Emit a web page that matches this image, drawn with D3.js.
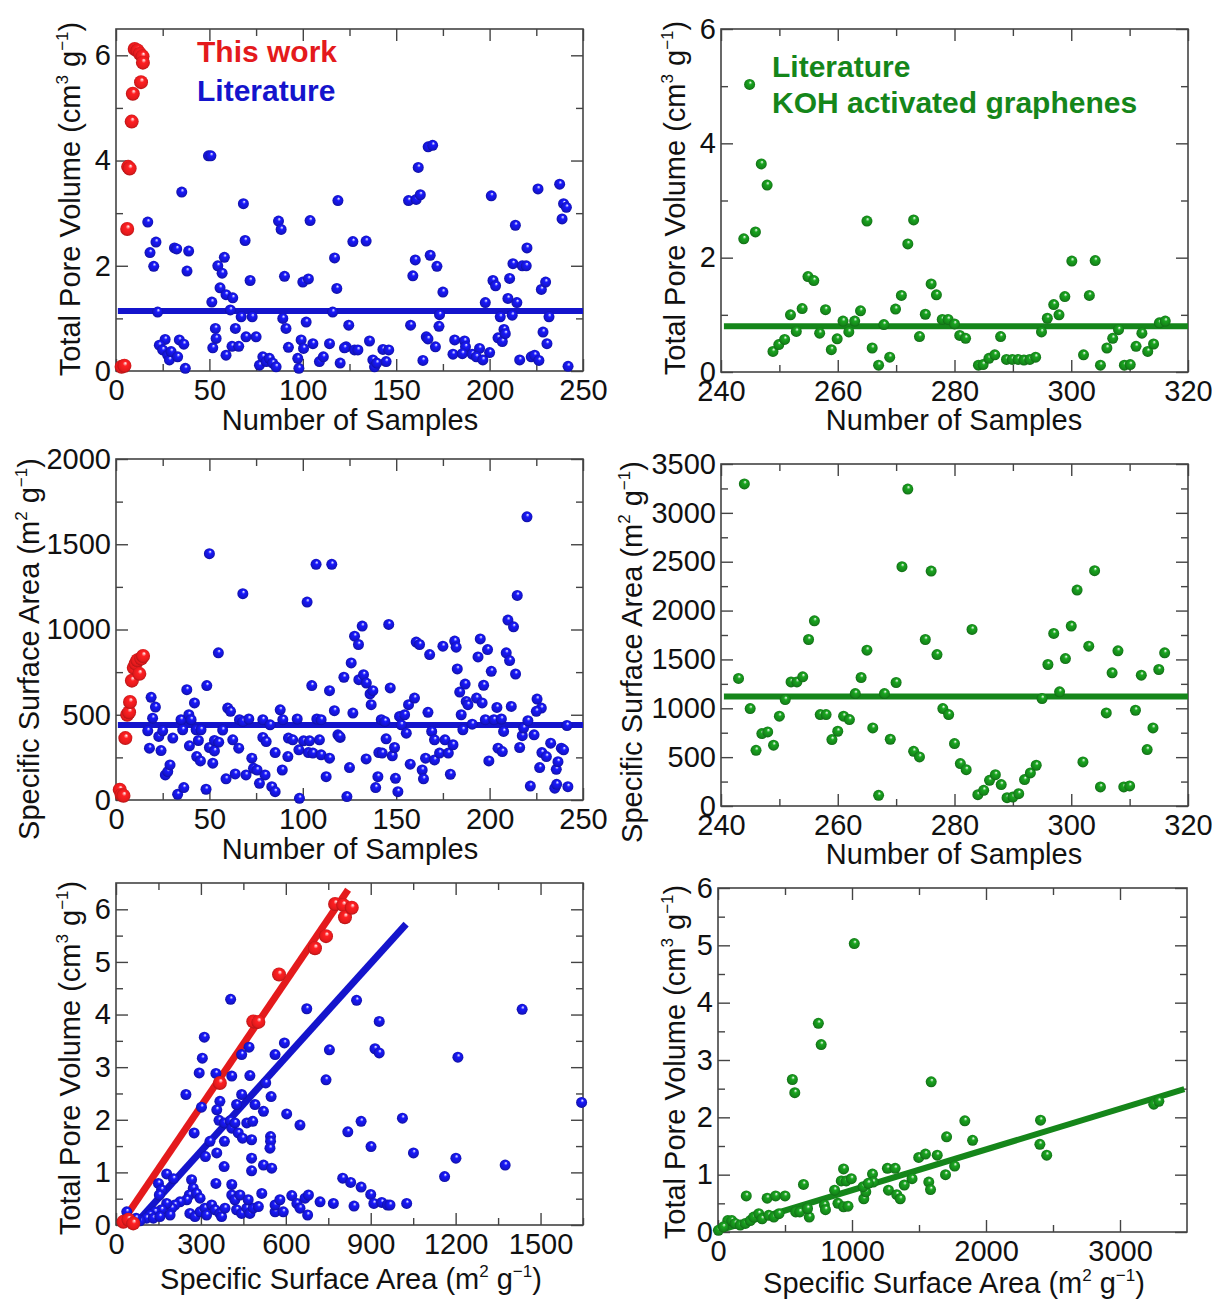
<!DOCTYPE html>
<html>
<head>
<meta charset="utf-8">
<script src="https://cdnjs.cloudflare.com/ajax/libs/d3/7.8.5/d3.min.js"></script>
<style>
  body { margin: 0; background: #fff; }
  svg { display: block; font-family: "Liberation Sans", Arial, sans-serif; }
  .tick text { font-size: 29px; fill: #111; }
  .tick line { stroke: #444; stroke-width: 1.4; }
  .title { font-size: 29px; fill: #111; }
  .legend { font-size: 30px; font-weight: bold; }
</style>
</head>
<body>
<div id="chart"></div>
<script>
// ---- data ----
// top left: total pore volume vs sample number
var tpvThisWork = [[3,0.08],[4.5,0.1],[6,2.70],[6.5,3.88],[7.3,3.85],[8.4,4.74],[9,5.27],[10,6.12],
    [11.5,6.09],[12.8,6.03],[13.4,5.49],[14.2,5.98],[14.4,5.86]];
var tpvLit = [[17,2.83],[21.4,2.45],[18.2,2.25],[20.2,1.99],[22.3,1.12],[26.3,0.6],[23.2,0.49],[25,0.4],
    [27.7,0.3],[28.6,0.21],[29.5,0.37],[33,0.27],[31.3,2.34],[32.5,2.32],[33.9,0.59],[36.3,0.51],[35.2,3.4],
    [37.1,0.05],[38.9,2.28],[38,1.9],[49.5,4.09],[50.8,4.09],[51.3,1.31],[51.8,0.44],[53.2,0.81],[53.6,0.62],
    [54.5,2.0],[56.8,1.86],[58,2.16],[55.7,1.58],[58.9,1.45],[62.5,1.39],[58.9,0.3],[61.2,1.16],[62.1,0.47],
    [63.9,0.81],[65.7,0.47],[67,1.03],[68.2,3.18],[69.1,2.48],[69.6,0.65],[71.8,1.72],[72.9,1.03],[75,0.65],
    [76.8,0.11],[78.6,0.27],[80.4,0.18],[82.1,0.24],[83.9,0.15],[85.7,0.08],[87,2.85],[88.4,2.69],[89.3,1.0],
    [91,0.81],[90.2,1.8],[92.3,0.45],[97.9,0.05],[97.3,0.24],[99.1,0.59],[100,1.69],[103,1.75],[101.8,0.93],
    [103.9,2.86],[105.4,0.52],[100.4,0.43],[108.9,0.18],[111,0.27],[114.3,0.52],[116,1.12],[117,2.15],
    [118.2,1.57],[118.8,3.24],[120,0.15],[123.2,0.46],[124.6,0.87],[126.8,2.46],[133.9,2.47],[122.3,0.44],
    [127.7,0.4],[129.5,0.4],[135.7,0.57],[137.5,0.21],[138.4,0.08],[139.6,0.15],[142.9,0.41],[146,0.4],
    [144.6,0.18],[156.6,3.24],[160.7,3.26],[162.9,3.35],[161.8,3.87],[167.1,4.26],[169.5,4.29],[160.2,2.11],
    [158.9,1.81],[157.7,0.87],[168.2,2.2],[171.8,1.99],[175,1.5],[173.2,1.07],[172.9,0.85],[166.1,0.65],
    [167,0.61],[164.3,0.2],[171,0.46],[181.3,0.59],[180.4,0.32],[186.6,0.57],[187.1,0.46],[185.4,0.33],
    [190.7,0.32],[194.6,0.43],[192.9,0.27],[196.4,0.21],[200,0.35],[197.7,1.3],[200.9,3.33],[201.8,1.72],
    [203.2,1.62],[205.7,1.03],[204.5,0.63],[206.8,0.56],[207.7,0.79],[208.4,0.71],[209.8,1.38],[210.7,1.76],
    [212.5,2.04],[213.8,2.77],[212.1,1.06],[214.6,1.3],[217.5,2.0],[219.6,2.0],[220,2.34],[216.1,0.21],
    [222.3,0.27],[224.1,0.3],[226.4,0.2],[225.9,3.46],[227.7,1.55],[230,1.69],[228.6,0.74],[230.7,0.52],
    [231.8,1.03],[237.5,3.55],[239.6,3.18],[241.1,3.11],[238.8,2.89],[242,0.09]];
var tpvLitMean = 1.14;

// top right: KOH activated graphenes, pore volume vs sample number
var tpvKoh = [[243.9,2.33],[244.9,5.03],[245.9,2.45],[246.9,3.64],[247.9,3.27],[248.9,0.36],[249.9,0.48],
    [250.9,0.57],[251.9,1.0],[252.9,0.71],[253.9,1.11],[254.9,1.67],[255.9,1.6],[256.9,0.68],[257.9,1.09],
    [258.9,0.39],[259.9,0.58],[260.9,0.89],[261.9,0.7],[262.9,0.89],[263.9,1.07],[265,2.64],[265.9,0.42],
    [267,0.12],[267.9,0.83],[268.9,0.26],[269.9,1.1],[270.9,1.34],[272,2.24],[273,2.66],[274,0.62],[275,1.01],
    [276,1.54],[276.9,1.35],[277.9,0.92],[278.9,0.92],[280,0.84],[280.9,0.64],[281.9,0.59],[284.1,0.12],
    [284.9,0.13],[285.9,0.24],[286.9,0.3],[287.9,0.62],[288.9,0.22],[289.9,0.22],[290.9,0.22],[291.9,0.21],
    [292.9,0.22],[293.9,0.26],[294.9,0.7],[295.9,0.94],[297,1.18],[297.9,1.0],[298.9,1.32],[300.1,1.94],
    [302.1,0.3],[303.1,1.34],[304.1,1.95],[305,0.12],[306.1,0.42],[307.1,0.59],[308.1,0.74],[309.1,0.12],
    [310.1,0.13],[311.1,0.45],[312.1,0.68],[313.1,0.36],[314.1,0.49],[315.1,0.86],[316.1,0.89]];
var tpvKohMean = 0.80;

// middle left: specific surface area vs sample number
var ssaThisWork = [[2,60],[3,30],[4,25],[5,363],[6,500],[7,515],[7.5,575],[8.5,700],[9.5,775],[10.5,800],
    [11.5,820],[12.5,740],[13.5,830],[14.5,845]];
var ssaLit = [[18.8,602],[21.1,545],[19.6,480],[17,406],[17.9,304],[22.9,373],[24.1,290],[26.4,147],
    [27.7,167],[28.9,206],[25,406],[30.4,363],[33,33],[36.3,73],[34.8,471],[35.7,412],[37.9,647],[39,500],
    [40.2,471],[39.3,318],[42,569],[42.9,412],[45.5,412],[44.1,349],[43.2,255],[45.2,229],[48.2,63],
    [48.6,671],[50,1445],[50,308],[52.7,288],[51.8,216],[52.7,349],[55,339],[54.8,863],[57.1,410],[58.9,124],
    [59.8,539],[61.3,520],[62.5,353],[63.8,153],[65.7,304],[66.1,471],[67.9,461],[67.9,1210],[69.6,147],
    [71.1,475],[72.7,245],[73.6,186],[75.5,176],[76.8,98],[78.6,471],[78.6,367],[80.4,343],[79.8,147],
    [82.5,441],[83.4,78],[85.2,49],[85.2,278],[87.9,529],[89,176],[89.3,471],[92,255],[92.3,363],[94.6,353],
    [97,475],[98.2,10],[97.9,294],[100.4,347],[103,278],[105.4,275],[103.6,347],[102.3,1161],[107.1,1382],
    [107.5,475],[109.8,471],[108.9,353],[104.8,671],[109.8,265],[112.5,137],[114.3,641],[114.3,245],
    [115.5,1382],[116.9,524],[118.8,382],[120,367],[122,720],[123.6,20],[119.6,373],[126.8,510],[125.9,804],
    [125,190],[127.7,961],[129.8,912],[131.8,1020],[130,706],[132.5,735],[134,686],[136,622],[137.5,641],
    [136.6,559],[133.9,241],[140.2,137],[139,73],[140.7,278],[142.5,275],[142,471],[143.9,461],[144.6,359],
    [146,1030],[146.8,657],[147.9,259],[149.1,308],[149.6,127],[150.9,49],[151.8,490],[154.5,500],[152.7,441],
    [155.4,392],[156.6,559],[159.8,598],[157.5,210],[160.7,926],[162.5,912],[163.9,176],[164.6,124],[167,514],
    [167.9,853],[165.7,245],[169,402],[170.5,353],[170.5,235],[173.2,275],[175,902],[176.1,353],[177.9,275],
    [180.4,324],[179,151],[181.3,932],[182.1,896],[182.7,769],[184,633],[184.8,500],[185.7,412],[186.9,680],
    [187.5,578],[188.4,559],[190.7,445],[193,598],[196,569],[193.8,839],[195,945],[196.8,673],[197.7,471],
    [198.9,882],[199.6,229],[200.9,755],[202.3,471],[203.9,543],[204.5,304],[206.8,284],[206.3,475],
    [207.5,402],[208.9,863],[210.7,818],[209.8,1055],[212.8,1016],[211.6,549],[213.9,739],[214.8,1200],
    [216.1,308],[217.5,377],[218.2,422],[220,1661],[220.5,465],[221.8,82],[223.8,382],[225.4,592],[227.7,539],
    [225,520],[226.8,190],[228,278],[230.4,255],[232.7,333],[235.7,180],[236.6,225],[234.9,69],[235.9,92],
    [238.4,304],[239.6,294],[241.4,437],[241.9,78]];
var ssaLitMean = 440;

// middle right: KOH activated graphenes, surface area vs sample number
var ssaKoh = [[243,1305],[244,3296],[245,997],[246,570],[247,741],[248,758],[249,622],[250,919],[251,1089],
    [252,1270],[253,1270],[254,1322],[255,1704],[256,1895],[257,936],[258,936],[259,680],[260,765],[261,919],
    [262,884],[263,1151],[264,1315],[265,1595],[266,799],[267,109],[268,1151],[269,683],[270,1264],[271,2449],
    [272,3244],[273,560],[274,502],[275,1704],[276,2404],[277,1550],[278,997],[279,936],[280,639],[281,434],
    [282,372],[283,1807],[284,116],[285,161],[286,263],[287,321],[288,219],[289,85],[290,92],[291,126],
    [292,270],[293,338],[294,417],[295,1100],[296,1448],[297,1766],[298,1168],[299,1509],[300,1841],
    [301,2210],[302,451],[303,1636],[304,2408],[305,195],[306,953],[307,1363],[308,1588],[309,195],[310,205],
    [311,980],[312,1339],[313,577],[314,799],[315,1397],[316,1568]];
var ssaKohMean = 1120;

// bottom left: pore volume vs surface area
var corrThisWork = [[26,0.06],[44,0.1],[61,0.03],[367,2.70],[485,3.87],[503,3.86],[576,4.76],[703,5.26],
    [742,5.49],[774,6.10],[803,6.08],[809,5.85],[833,6.03]];
var corrLit = [[405,4.29],[312,3.57],[305,3.17],[294,2.89],[247,2.48],[302,2.24],[276,1.75],[353,2.88],
    [409,2.83],[444,3.24],[470,3.38],[473,2.84],[367,2.35],[356,2.19],[364,1.99],[383,1.94],[403,1.98],
    [409,1.84],[420,1.94],[426,2.29],[444,2.48],[462,1.94],[432,1.75],[447,1.65],[483,1.97],[479,1.62],
    [383,1.59],[356,1.37],[332,1.59],[316,1.3],[382,1.11],[479,1.27],[479,1.03],[491,2.29],[521,2.16],
    [529,2.7],[548,2.44],[562,3.24],[595,3.46],[546,1.68],[546,1.59],[544,1.46],[521,1.14],[550,1.08],
    [603,2.11],[650,1.9],[674,4.11],[754,3.33],[742,2.76],[850,4.27],[930,3.87],[915,3.35],[930,3.27],
    [866,1.97],[819,1.77],[901,1.49],[1012,2.03],[1051,1.37],[179,0.97],[150,0.79],[161,0.67],[153,0.57],
    [203,0.88],[267,0.86],[273,0.7],[259,0.57],[285,0.6],[297,0.51],[250,0.48],[226,0.44],[208,0.38],
    [197,0.32],[179,0.41],[161,0.29],[138,0.25],[120,0.19],[108,0.13],[85,0.08],[71,0.13],[38,0.25],
    [132,0.13],[155,0.16],[191,0.19],[261,0.22],[279,0.16],[297,0.25],[314,0.32],[320,0.19],[338,0.38],
    [350,0.29],[367,0.22],[373,0.16],[385,0.32],[353,0.79],[409,0.77],[409,0.57],[420,0.48],[438,0.57],
    [426,0.29],[444,0.22],[462,0.32],[473,0.22],[485,0.32],[467,0.48],[515,0.6],[503,0.35],[562,0.25],
    [562,0.38],[579,0.48],[591,0.25],[621,0.56],[639,0.41],[650,0.32],[668,0.51],[680,0.57],[677,0.19],
    [721,0.44],[768,0.41],[801,0.89],[829,0.81],[841,0.36],[866,0.72],[900,0.58],[911,0.41],[939,0.43],
    [959,0.38],[968,0.38],[1027,0.41],[1161,0.92],[1201,1.27],[1208,3.19],[1375,1.14],[1435,4.1],[1645,2.33]];
var fitThisWork = [[15,0],[820,6.37]];
var fitLit = [[65,0],[1025,5.72]];

// bottom right: KOH activated graphenes, pore volume vs surface area
var corrKoh = [[555,2.66],[573,2.43],[1591,2.62],[1842,1.94],[1900,1.6],[1706,1.66],[2407,1.95],[2402,1.53],
    [2453,1.34],[211,0.63],[367,0.59],[430,0.63],[500,0.63],[638,0.83],[580,0.35],[610,0.35],[681,0.26],
    [668,0.41],[794,0.47],[802,0.39],[937,1.1],[920,0.89],[957,0.89],[995,0.93],[895,0.5],[937,0.44],
    [970,0.45],[870,0.73],[1088,0.58],[1103,0.7],[1083,0.79],[1153,1.01],[1158,0.87],[1121,0.85],[1264,1.11],
    [1322,1.11],[1272,0.73],[1334,0.65],[1360,0.58],[1390,0.82],[1448,0.93],[1498,1.3],[1548,1.36],[1573,0.87],
    [1586,0.74],[1636,1.34],[1698,1.0],[1766,1.15],[73,0.2],[103,0.2],[128,0.15],[166,0.12],[204,0.15],
    [241,0.2],[266,0.26],[304,0.32],[329,0.23],[379,0.29],[417,0.26],[455,0.32],[3,0.03],[40,0.09],
    [1017,5.03],[749,3.64],[770,3.27],[3252,2.23],[3290,2.28]];
var fitKoh = [[0,0.02],[3480,2.49]];

var red = "#e41a1c", blue = "#1414cc", green = "#15861a";

var svg = d3.select("#chart").append("svg")
    .attr("width", 1212)
    .attr("height", 1301);

// shaded sphere look for the markers
var defs = svg.append("defs");
[["red", red], ["blue", blue], ["green", green]].forEach(function (c) {
    var grad = defs.append("radialGradient")
        .attr("id", "ball-" + c[0])
        .attr("cx", "0.5").attr("cy", "0.5").attr("r", "0.55")
        .attr("fx", "0.58").attr("fy", "0.3");
    grad.append("stop").attr("offset", "0%").attr("stop-color", "#ffffff");
    grad.append("stop").attr("offset", "30%").attr("stop-color", d3.color(c[1]).brighter(0.6));
    grad.append("stop").attr("offset", "75%").attr("stop-color", c[1]);
    grad.append("stop").attr("offset", "100%").attr("stop-color", d3.color(c[1]).darker(1));
});

function range(a, b, step) { return d3.range(a, b + step / 2, step); }

// one framed panel with inward ticks on all four sides
function makePanel(p) {
    var w = p.x1 - p.x0, h = p.y1 - p.y0;
    var g = svg.append("g").attr("transform", "translate(" + p.x0 + "," + p.y0 + ")");
    var x = d3.scaleLinear().domain(p.xd).range([0, w]);
    var y = d3.scaleLinear().domain(p.yd).range([h, 0]);

    var axes = [
        [d3.axisBottom, x, "translate(0," + h + ")", true],
        [d3.axisLeft, y, null, true],
        [d3.axisTop, x, null, false],
        [d3.axisRight, y, "translate(" + w + ",0)", false]
    ];
    axes.forEach(function (a) {
        var isX = a[1] === x;
        var major = isX ? p.xMajor : p.yMajor, minor = isX ? p.xMinor : p.yMinor;
        var ax = a[0](a[1]).tickValues(major).tickSizeInner(-12).tickSizeOuter(0)
            .tickPadding(isX ? 8 : 5)
            .tickFormat(a[3] ? d3.format("d") : "");
        var ga = g.append("g").call(ax);
        if (a[2]) ga.attr("transform", a[2]);
        ga.select(".domain").remove();
        var gm = g.append("g").call(a[0](a[1]).tickValues(minor).tickSizeInner(-7)
            .tickSizeOuter(0).tickFormat(""));
        if (a[2]) gm.attr("transform", a[2]);
        gm.select(".domain").remove();
    });

    g.append("rect").attr("width", w).attr("height", h)
        .attr("fill", "none").attr("stroke", "#444").attr("stroke-width", 1.6);

    var line = d3.line().x(function (d) { return x(d[0]); }).y(function (d) { return y(d[1]); });
    p.lines.forEach(function (l) {
        g.append("path").attr("d", line(l.data)).attr("fill", "none")
            .attr("stroke", l.color).attr("stroke-width", l.width || 6);
    });

    p.series.forEach(function (s) {
        g.selectAll(null).data(s.data).enter().append("circle")
            .attr("cx", function (d) { return x(d[0]); })
            .attr("cy", function (d) { return y(d[1]); })
            .attr("r", s.r)
            .attr("fill", "url(#ball-" + s.name + ")");
    });

    // axis titles
    addTitle(svg.append("text").attr("class", "title").attr("text-anchor", "middle")
        .attr("x", p.xTitle[0]).attr("y", p.xTitle[1]), p.xLabel);
    addTitle(svg.append("text").attr("class", "title").attr("text-anchor", "middle")
        .attr("transform", "translate(" + p.yTitle[0] + "," + p.yTitle[1] + ") rotate(-90)"), p.yLabel);
    return g;
}

// label parts: plain strings or ["sup", text]
function addTitle(t, parts) {
    var up = false;
    parts.forEach(function (part) {
        var ts = t.append("tspan");
        if (Array.isArray(part)) {
            ts.text(part[1]).attr("font-size", "17px").attr("dy", up ? 0 : -12);
            up = true;
        } else {
            ts.text(part).attr("dy", up ? 12 : 0);
            up = false;
        }
    });
}

var tpvLabel = ["Total Pore Volume (cm", ["sup", "3"], " g", ["sup", "\u22121"], ")"];
var ssaLabel = ["Specific Surface Area (m", ["sup", "2"], " g", ["sup", "\u22121"], ")"];
var nLabel = ["Number of Samples"];

makePanel({
    x0: 116, x1: 583, y0: 29, y1: 371, xd: [0, 250], yd: [0, 6.5],
    xMajor: range(0, 250, 50), xMinor: range(25, 225, 50), yMajor: range(0, 6, 2), yMinor: range(1, 5, 2),
    lines: [{ data: [[1, tpvLitMean], [250, tpvLitMean]], color: blue }],
    series: [{ name: "blue", data: tpvLit, r: 5.5 }, { name: "red", data: tpvThisWork, r: 7 }],
    xLabel: nLabel, yLabel: tpvLabel, xTitle: [350, 430], yTitle: [80, 199]
});
makePanel({
    x0: 721, x1: 1188, y0: 29, y1: 372, xd: [240, 320], yd: [0, 6],
    xMajor: range(240, 320, 20), xMinor: range(250, 310, 20), yMajor: range(0, 6, 2), yMinor: range(1, 5, 2),
    lines: [{ data: [[240.5, tpvKohMean], [320, tpvKohMean]], color: green }],
    series: [{ name: "green", data: tpvKoh, r: 5.5 }],
    xLabel: nLabel, yLabel: tpvLabel, xTitle: [954, 430], yTitle: [685, 198]
});
makePanel({
    x0: 116, x1: 583, y0: 459, y1: 800, xd: [0, 250], yd: [0, 2000],
    xMajor: range(0, 250, 50), xMinor: range(25, 225, 50), yMajor: range(0, 2000, 500),
    yMinor: range(250, 1750, 500),
    lines: [{ data: [[1, ssaLitMean], [250, ssaLitMean]], color: blue }],
    series: [{ name: "blue", data: ssaLit, r: 5.5 }, { name: "red", data: ssaThisWork, r: 7 }],
    xLabel: nLabel, yLabel: ssaLabel, xTitle: [350, 859], yTitle: [39, 649]
});
makePanel({
    x0: 721, x1: 1188, y0: 464, y1: 806, xd: [240, 320], yd: [0, 3500],
    xMajor: range(240, 320, 20), xMinor: range(250, 310, 20), yMajor: range(0, 3500, 500),
    yMinor: range(250, 3250, 500),
    lines: [{ data: [[240.5, ssaKohMean], [320, ssaKohMean]], color: green }],
    series: [{ name: "green", data: ssaKoh, r: 5.5 }],
    xLabel: nLabel, yLabel: ssaLabel, xTitle: [954, 864], yTitle: [642, 652]
});
makePanel({
    x0: 116, x1: 583, y0: 883, y1: 1225, xd: [0, 1650], yd: [0, 6.5],
    xMajor: range(0, 1500, 300), xMinor: range(150, 1650, 300), yMajor: range(0, 6, 1),
    yMinor: range(0.5, 6, 1),
    lines: [{ data: fitThisWork, color: red, width: 7 }, { data: fitLit, color: blue, width: 7 }],
    series: [{ name: "blue", data: corrLit, r: 5.5 }, { name: "red", data: corrThisWork, r: 7 }],
    xLabel: ssaLabel, yLabel: tpvLabel, xTitle: [351, 1289], yTitle: [80, 1058]
});
makePanel({
    x0: 718, x1: 1187, y0: 888, y1: 1232, xd: [0, 3500], yd: [0, 6],
    xMajor: range(0, 3000, 1000), xMinor: range(500, 3000, 1000), yMajor: range(0, 6, 1),
    yMinor: range(0.5, 5.5, 1),
    lines: [{ data: fitKoh, color: green, width: 6 }],
    series: [{ name: "green", data: corrKoh, r: 5.5 }],
    xLabel: ssaLabel, yLabel: tpvLabel, xTitle: [954, 1293], yTitle: [685, 1062]
});

// legends
svg.append("text").attr("class", "legend").attr("x", 197).attr("y", 62).attr("fill", red).text("This work");
svg.append("text").attr("class", "legend").attr("x", 197).attr("y", 101).attr("fill", blue).text("Literature");
svg.append("text").attr("class", "legend").attr("x", 772).attr("y", 77).attr("fill", green).text("Literature");
svg.append("text").attr("class", "legend").attr("x", 772).attr("y", 113).attr("fill", green)
    .text("KOH activated graphenes");
</script>
</body>
</html>
